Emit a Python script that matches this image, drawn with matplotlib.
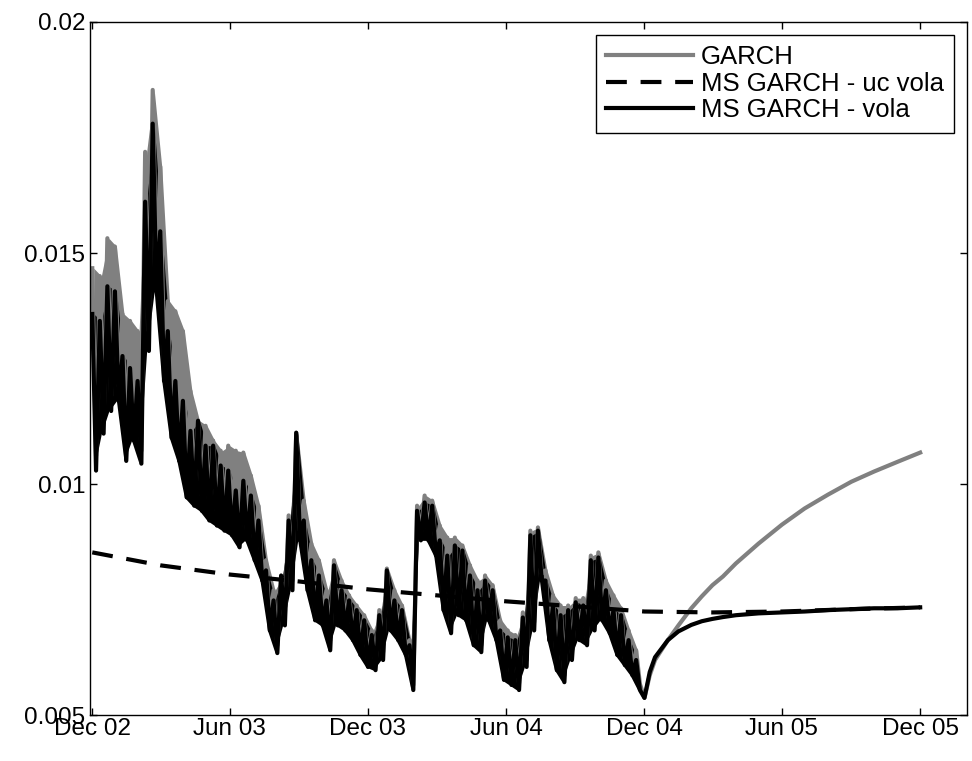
import numpy as np
import pandas as pd
import matplotlib
matplotlib.use("Agg")
import matplotlib.pyplot as plt

plt.rcParams['font.family'] = ['Liberation Sans', 'DejaVu Sans']

# in-sample part: 10-day grid from Dec 02, upper and lower swing of each series
start = '2002-12-01'
vola_hi = [0.01368, 0.01353, 0.01428, 0.01417, 0.01277, 0.01251, 0.01223, 0.01611, 0.01780, 0.01547,
           0.01331, 0.01223, 0.01180, 0.01115, 0.01137, 0.01083, 0.01083, 0.01040, 0.01029, 0.00986,
           0.01007, 0.00975, 0.00921, 0.00813, 0.00748, 0.00802, 0.00921, 0.01111, 0.00921, 0.00835,
           0.00802, 0.00748, 0.00824, 0.00770, 0.00748, 0.00727, 0.00705, 0.00673, 0.00716, 0.00813,
           0.00748, 0.00727, 0.00651, 0.00942, 0.00960, 0.00953, 0.00878, 0.00845, 0.00867, 0.00856,
           0.00802, 0.00770, 0.00791, 0.00770, 0.00683, 0.00668, 0.00662, 0.00711, 0.00889, 0.00899,
           0.00791, 0.00737, 0.00716, 0.00727, 0.00744, 0.00737, 0.00835, 0.00841, 0.00770, 0.00727,
           0.00716, 0.00662, 0.00619]
vola_lo = [0.01029, 0.01109, 0.01158, 0.01180, 0.01050, 0.01094, 0.01044, 0.01288, 0.01417, 0.01223,
           0.01100, 0.01050, 0.00971, 0.00953, 0.00942, 0.00921, 0.00910, 0.00899, 0.00889, 0.00863,
           0.00878, 0.00835, 0.00791, 0.00683, 0.00634, 0.00694, 0.00770, 0.00878, 0.00770, 0.00705,
           0.00694, 0.00640, 0.00694, 0.00683, 0.00662, 0.00630, 0.00604, 0.00597, 0.00619, 0.00683,
           0.00662, 0.00630, 0.00554, 0.00878, 0.00878, 0.00845, 0.00727, 0.00677, 0.00716, 0.00705,
           0.00651, 0.00636, 0.00705, 0.00662, 0.00576, 0.00565, 0.00554, 0.00604, 0.00683, 0.00791,
           0.00662, 0.00597, 0.00571, 0.00619, 0.00662, 0.00651, 0.00683, 0.00705, 0.00677, 0.00630,
           0.00608, 0.00586, 0.00554]
garch_hi = [0.01467, 0.01450, 0.01532, 0.01514, 0.01368, 0.01353, 0.01331, 0.01719, 0.01853, 0.01687,
            0.01396, 0.01374, 0.01331, 0.01201, 0.01137, 0.01126, 0.01094, 0.01072, 0.01083, 0.01072,
            0.01068, 0.01018, 0.00953, 0.00835, 0.00770, 0.00798, 0.00932, 0.01111, 0.00964, 0.00871,
            0.00835, 0.00770, 0.00835, 0.00791, 0.00759, 0.00737, 0.00716, 0.00683, 0.00727, 0.00817,
            0.00770, 0.00737, 0.00662, 0.00953, 0.00975, 0.00964, 0.00910, 0.00884, 0.00884, 0.00867,
            0.00824, 0.00791, 0.00802, 0.00781, 0.00705, 0.00683, 0.00673, 0.00722, 0.00899, 0.00906,
            0.00813, 0.00759, 0.00737, 0.00737, 0.00753, 0.00753, 0.00845, 0.00852, 0.00791, 0.00759,
            0.00731, 0.00683, 0.00640]
garch_lo = [0.01061, 0.01137, 0.01191, 0.01212, 0.01083, 0.01126, 0.01072, 0.01331, 0.01460, 0.01266,
            0.01137, 0.01083, 0.01007, 0.00986, 0.00975, 0.00953, 0.00942, 0.00932, 0.00921, 0.00889,
            0.00899, 0.00856, 0.00813, 0.00705, 0.00651, 0.00716, 0.00791, 0.00899, 0.00791, 0.00727,
            0.00716, 0.00662, 0.00716, 0.00701, 0.00679, 0.00651, 0.00623, 0.00612, 0.00636, 0.00701,
            0.00679, 0.00647, 0.00565, 0.00895, 0.00895, 0.00863, 0.00744, 0.00694, 0.00733, 0.00722,
            0.00666, 0.00651, 0.00720, 0.00679, 0.00593, 0.00580, 0.00569, 0.00619, 0.00701, 0.00806,
            0.00679, 0.00614, 0.00586, 0.00634, 0.00677, 0.00666, 0.00701, 0.00722, 0.00692, 0.00645,
            0.00623, 0.00601, 0.00567]

# out-of-sample forecast, Dec 04 to Dec 05
fc_dates = ['2004-12-01', '2004-12-08', '2004-12-15', '2005-01-01', '2005-01-15', '2005-02-01',
            '2005-02-15', '2005-03-01', '2005-03-15', '2005-04-01', '2005-05-01', '2005-06-01',
            '2005-07-01', '2005-08-01', '2005-09-01', '2005-10-01', '2005-11-01', '2005-12-01']
vola_fc = [0.00537, 0.00593, 0.00625, 0.00662, 0.00681, 0.00695, 0.00703, 0.00708, 0.00712,
           0.00716, 0.00720, 0.00722, 0.00724, 0.00727, 0.00729, 0.00731, 0.00731, 0.00733]
garch_fc = [0.00537, 0.00586, 0.00619, 0.00662, 0.00694, 0.00731, 0.00757, 0.00781, 0.00800,
            0.00828, 0.00871, 0.00912, 0.00947, 0.00977, 0.01005, 0.01027, 0.01048, 0.01068]

# unconditional vola of the MS GARCH
uc_dates = ['2002-12-01', '2003-03-01', '2003-06-01', '2003-09-01', '2003-12-01', '2004-03-01',
            '2004-06-01', '2004-09-01', '2004-12-01', '2005-03-01', '2005-06-01', '2005-09-01',
            '2005-12-01']
uc_vola = [0.00852, 0.00824, 0.00804, 0.00789, 0.00772, 0.00759, 0.00746, 0.00735, 0.00724,
           0.00722, 0.00724, 0.00729, 0.00733]

xtick_dates = ['2002-12-01', '2003-06-01', '2003-12-01', '2004-06-01', '2004-12-01', '2005-06-01', '2005-12-01']
xtick_labels = ['Dec 02', 'Jun 03', 'Dec 03', 'Jun 04', 'Dec 04', 'Jun 05', 'Dec 05']
ytick_vals = [0.005, 0.01, 0.015, 0.02]
ytick_labels = ['0.005', '0.01', '0.015', '0.02']

grid = pd.date_range(start, periods=len(vola_hi), freq='10D')


def zigzag(hi, lo, fc):
    # daily swings: alternate between the upper and lower reading
    d = np.empty(2 * len(hi), dtype='datetime64[ns]')
    d[0::2] = grid.values
    d[1::2] = (grid + pd.Timedelta(days=5)).values
    v = np.empty(2 * len(hi))
    v[0::2] = hi
    v[1::2] = lo
    d = np.concatenate([d, pd.to_datetime(fc_dates).values])
    v = np.concatenate([v, fc])
    return d, v


fig = plt.figure(figsize=(9.72, 7.61), dpi=100)
ax = fig.add_axes([90 / 972, 1 - 715 / 761, 877 / 972, 693 / 761])

gd, gv = zigzag(garch_hi, garch_lo, garch_fc)
vd, vv = zigzag(vola_hi, vola_lo, vola_fc)
band_x = grid + pd.Timedelta(days=2)

ax.fill_between(band_x, garch_lo, garch_hi, color='#808080', lw=0)
ax.plot(gd, gv, color='#808080', lw=3.0, label='GARCH')
ax.plot(pd.to_datetime(uc_dates), uc_vola, color='black', lw=3.0, ls=(0, (5, 3.3)),
        label='MS GARCH - uc vola')
ax.fill_between(band_x, vola_lo, vola_hi, color='black', lw=0)
ax.plot(vd, vv, color='black', lw=3.0, label='MS GARCH - vola')

ax.set_xlim(pd.Timestamp('2002-11-28'), pd.Timestamp('2006-02-01'))
ax.set_ylim(0.005, 0.02)
ax.set_xticks(pd.to_datetime(xtick_dates))
ax.set_xticklabels(xtick_labels)
ax.set_yticks(ytick_vals)
ax.set_yticklabels(ytick_labels)
ax.tick_params(direction='in', length=5, width=1, top=True, right=True, labelsize=17.5)
ax.tick_params(axis='x', pad=2)
for s in ax.spines.values():
    s.set_linewidth(1.0)

leg = ax.legend(loc='upper right', fontsize=18.5, frameon=True, fancybox=False,
                edgecolor='black', framealpha=1, handlelength=3.4, handletextpad=0.3,
                labelspacing=0.1, borderpad=0.4, borderaxespad=0.5)
leg.get_frame().set_linewidth(1.0)

fig.savefig('out.png', dpi=100)
